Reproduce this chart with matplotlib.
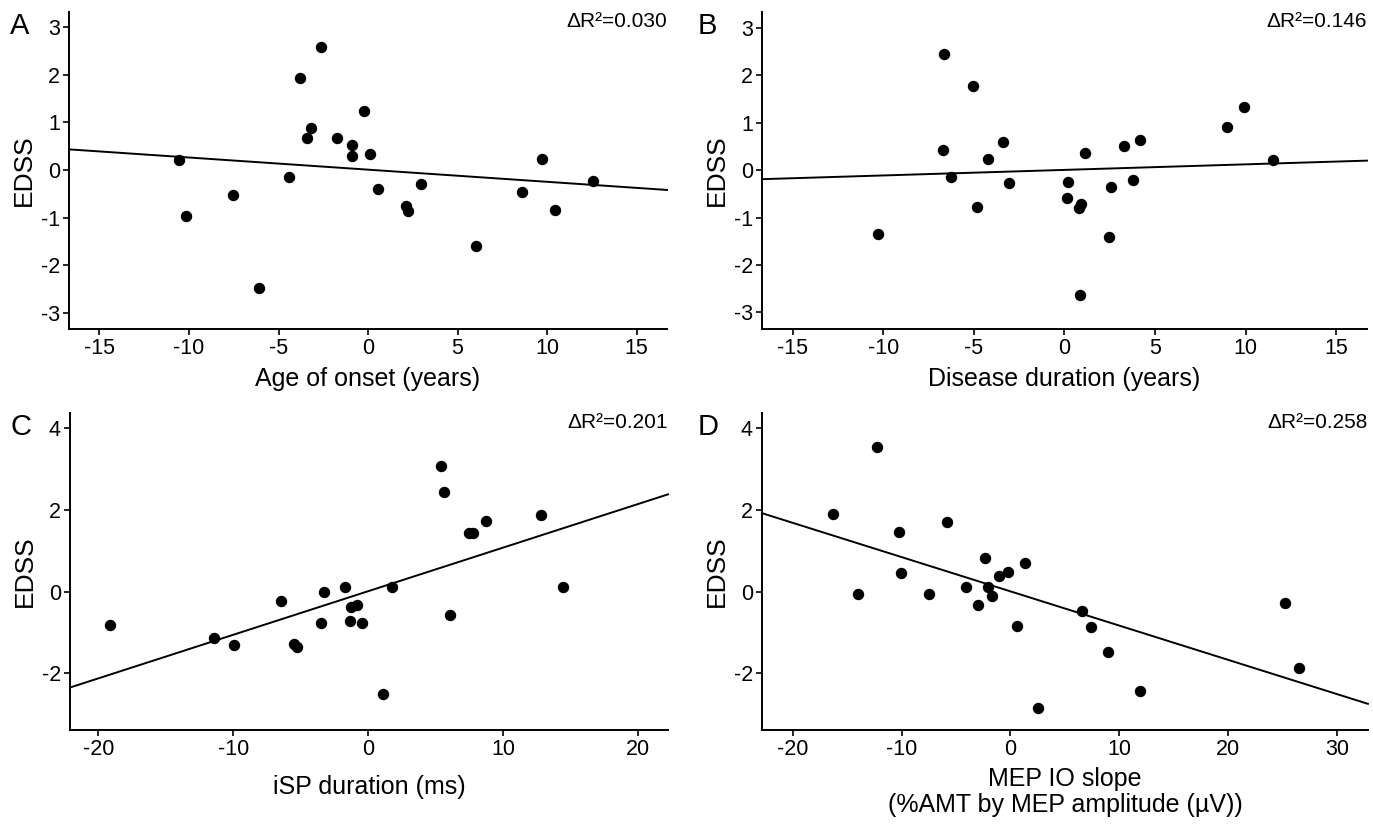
import numpy as np
import matplotlib
matplotlib.use("Agg")
import matplotlib.pyplot as plt

# partial regression plots: EDSS residuals vs predictor residuals

# A - age of onset
age_x = [-10.54, -10.17, -7.56, -6.10, -4.39, -3.79, -3.42, -3.17, -2.63, -1.74, -0.87, -0.89,
         -0.22, 0.12, 0.57, 2.11, 2.23, 2.95, 6.03, 8.60, 9.72, 10.46, 12.55]
age_y = [0.20, -0.97, -0.52, -2.48, -0.14, 1.93, 0.68, 0.88, 2.58, 0.68, 0.53, 0.30,
         1.23, 0.34, -0.41, -0.76, -0.86, -0.30, -1.60, -0.47, 0.22, -0.85, -0.23]
age_fit = (-0.0255, 0.005)   # slope, intercept

# B - disease duration
dur_x = [-10.32, -6.73, -6.63, -6.29, -5.04, -4.84, -4.20, -3.42, -3.07, 0.15, 0.22, 0.81,
         0.93, 0.84, 1.15, 2.48, 2.58, 3.27, 3.78, 4.18, 8.97, 9.90, 11.50]
dur_y = [-1.35, 0.43, 2.44, -0.14, 1.78, -0.77, 0.23, 0.60, -0.27, -0.58, -0.25, -0.79,
         -0.71, -2.63, 0.36, -1.42, -0.36, 0.50, -0.21, 0.64, 0.91, 1.33, 0.21]
dur_fit = (0.0117, 0.005)

# C - iSP duration
isp_x = [-19.17, -11.45, -9.97, -6.47, -5.48, -5.28, -3.50, -3.30, -1.72, -1.32, -1.35, -0.83,
         -0.46, 1.09, 1.75, 5.35, 5.61, 6.07, 7.43, 7.79, 8.75, 12.77, 14.42]
isp_y = [-0.83, -1.14, -1.32, -0.23, -1.28, -1.37, -0.77, 0.00, 0.11, -0.38, -0.72, -0.34,
         -0.77, -2.51, 0.12, 3.07, 2.44, -0.58, 1.43, 1.43, 1.74, 1.88, 0.11]
isp_fit = (0.1068, 0.01)

# D - MEP IO slope
mep_x = [-16.26, -14.01, -12.21, -10.21, -10.05, -7.48, -5.80, -4.08, -2.98, -2.33, -2.08, -1.72,
         -1.02, -0.20, 0.61, 1.31, 2.57, 6.58, 7.39, 8.99, 11.93, 25.20, 26.43]
mep_y = [1.89, -0.05, 3.53, 1.45, 0.46, -0.07, 1.71, 0.11, -0.33, 0.83, 0.11, -0.10,
         0.37, 0.49, -0.85, 0.69, -2.84, -0.47, -0.87, -1.48, -2.43, -0.27, -1.87]
mep_fit = (-0.0840, 0.005)

plt.rcParams['font.family'] = ['Liberation Sans', 'DejaVu Sans']
plt.rcParams['axes.unicode_minus'] = False

fig = plt.figure(figsize=(13.73, 8.25), dpi=100)

panels = [
    # letter, rect, x, y, fit, xlim, ylim, xticks, yticks, xlabel, dR2
    ("A", [0.0503, 0.6012, 0.4355, 0.384], age_x, age_y, age_fit, (-16.7, 16.7), (-3.34, 3.31),
     [-15, -10, -5, 0, 5, 10, 15], [-3, -2, -1, 0, 1, 2, 3], "Age of onset (years)", "0.030"),
    ("B", [0.5550, 0.6012, 0.4406, 0.384], dur_x, dur_y, dur_fit, (-16.7, 16.7), (-3.35, 3.33),
     [-15, -10, -5, 0, 5, 10, 15], [-3, -2, -1, 0, 1, 2, 3], "Disease duration (years)", "0.146"),
    ("C", [0.0510, 0.1152, 0.4355, 0.384], isp_x, isp_y, isp_fit, (-22.1, 22.2), (-3.39, 4.37),
     [-20, -10, 0, 10, 20], [-2, 0, 2, 4], "iSP duration (ms)", "0.201"),
    ("D", [0.5550, 0.1152, 0.4413, 0.384], mep_x, mep_y, mep_fit, (-22.8, 32.8), (-3.39, 4.37),
     [-20, -10, 0, 10, 20, 30], [-2, 0, 2, 4], "MEP IO slope\n(%AMT by MEP amplitude (\u00b5V))", "0.258"),
]

for letter, rect, x, y, fit, xlim, ylim, xt, yt, xlab, dr2 in panels:
    ax = fig.add_axes(rect)
    ax.plot(x, y, 'o', color='black', markersize=7.2, zorder=3)
    ax.set_xlim(*xlim)
    ax.set_ylim(*ylim)
    xs = np.array(xlim)
    ax.plot(xs, fit[1] + fit[0] * xs, color='black', lw=1.4, clip_on=False)
    ax.set_xticks(xt)
    ax.set_yticks(yt)
    ax.spines['top'].set_visible(False)
    ax.spines['right'].set_visible(False)
    for s in ['left', 'bottom']:
        ax.spines[s].set_linewidth(1.4)
    ax.tick_params(direction='out', length=4.5, width=1.2, labelsize=15.5, pad=2)
    ax.set_ylabel("EDSS", fontsize=19)
    ax.yaxis.set_label_coords(-0.055, 0.5)
    ax.set_xlabel(xlab, fontsize=18, linespacing=1.1)
    if letter in "AB":
        ax.xaxis.set_label_coords(0.5, -0.12)
    elif letter == "C":
        ax.xaxis.set_label_coords(0.5, -0.142)
    else:
        ax.xaxis.set_label_coords(0.5, -0.118)
    ax.text(1.0, 0.972, "\u0394R\u00b2=" + dr2, transform=ax.transAxes, ha='right', va='center', fontsize=15)
    fx = 0.0073 if letter in "AC" else 0.508
    fy = rect[1] + rect[3] + 0.0
    fig.text(fx, fy, letter, fontsize=21, ha='left', va='top')

fig.savefig("out.png", dpi=100)
